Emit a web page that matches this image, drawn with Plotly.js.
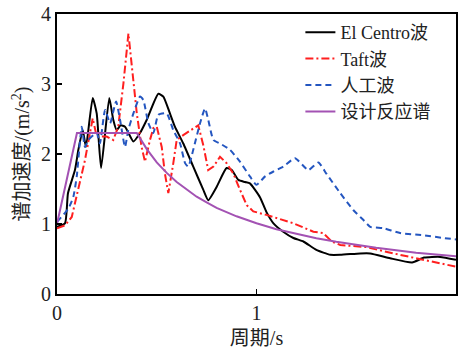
<!DOCTYPE html>
<html>
<head>
<meta charset="utf-8">
<script src="https://cdn.plot.ly/plotly-3.0.1.min.js"></script>
<style>
html,body{margin:0;padding:0;background:#fff}
#chart{width:459px;height:354px}
#chart svg text{font-family:"Liberation Serif","Times New Roman","Noto Sans CJK SC",serif !important}
</style>
</head>
<body>
<div id="chart"></div>
<script>
// El Centro wave
const elT = [0, 0.04, 0.055, 0.09, 0.107, 0.129, 0.145, 0.179, 0.199, 0.221, 0.262, 0.282, 0.299, 0.319, 0.341, 0.383, 0.416, 0.45, 0.508, 0.533, 0.566, 0.591, 0.633, 0.683, 0.733, 0.758, 0.80, 0.85, 0.876, 0.909, 0.942, 0.967, 1.018, 1.05, 1.085, 1.134, 1.185, 1.235, 1.30, 1.37, 1.42, 1.52, 1.57, 1.67, 1.78, 1.84, 1.92, 2.0];
const elS = [0.96, 1.01, 1.44, 1.77, 2.06, 2.34, 2.10, 2.80, 2.58, 1.80, 2.80, 2.49, 2.34, 2.41, 2.39, 2.18, 2.30, 2.49, 2.86, 2.82, 2.58, 2.39, 2.15, 1.82, 1.49, 1.34, 1.53, 1.80, 1.77, 1.63, 1.60, 1.58, 1.38, 1.17, 1.01, 0.89, 0.80, 0.75, 0.63, 0.56, 0.56, 0.58, 0.58, 0.51, 0.45, 0.52, 0.53, 0.49];
// Taft wave
const taftT = [0, 0.04, 0.074, 0.115, 0.14, 0.179, 0.199, 0.249, 0.282, 0.307, 0.333, 0.358, 0.374, 0.40, 0.424, 0.441, 0.466, 0.483, 0.50, 0.525, 0.541, 0.558, 0.583, 0.60, 0.633, 0.683, 0.708, 0.733, 0.758, 0.784, 0.817, 0.85, 0.884, 0.917, 0.951, 0.984, 1.05, 1.185, 1.285, 1.335, 1.377, 1.42, 1.55, 1.686, 1.80, 1.887, 2.0];
const taftS = [0.94, 0.98, 1.10, 1.63, 1.91, 2.51, 2.25, 2.25, 2.20, 2.39, 3.01, 3.72, 3.25, 2.58, 2.10, 1.89, 2.20, 2.37, 2.39, 2.10, 1.72, 1.44, 1.87, 2.20, 2.27, 2.37, 2.41, 2.13, 1.77, 1.82, 1.96, 1.87, 1.72, 1.49, 1.27, 1.18, 1.13, 1.01, 0.89, 0.87, 0.75, 0.70, 0.67, 0.58, 0.51, 0.46, 0.39];
// Artificial wave
const artT = [0, 0.057, 0.082, 0.099, 0.124, 0.14, 0.157, 0.199, 0.215, 0.241, 0.266, 0.296, 0.316, 0.341, 0.357, 0.383, 0.416, 0.433, 0.458, 0.483, 0.508, 0.55, 0.583, 0.617, 0.642, 0.658, 0.683, 0.717, 0.742, 0.758, 0.784, 0.817, 0.867, 0.917, 0.967, 1.0, 1.043, 1.085, 1.134, 1.193, 1.26, 1.31, 1.35, 1.42, 1.485, 1.535, 1.57, 1.636, 1.72, 1.836, 1.936, 2.0];
const artS = [1.03, 1.22, 1.39, 1.68, 2.39, 2.10, 2.20, 2.30, 2.15, 2.63, 2.44, 2.75, 2.49, 2.10, 2.34, 2.58, 2.82, 2.77, 2.44, 2.30, 2.56, 2.58, 2.34, 2.15, 1.87, 1.82, 2.06, 2.44, 2.65, 2.49, 2.20, 2.15, 2.06, 1.89, 1.68, 1.56, 1.68, 1.75, 1.82, 1.94, 1.77, 1.88, 1.72, 1.44, 1.20, 1.06, 0.96, 0.94, 0.87, 0.84, 0.80, 0.78];
// Design response spectrum
const desT = [0, 0.1, 0.4, 0.45, 0.5, 0.55, 0.6, 0.65, 0.7, 0.75, 0.8, 0.9, 1.0, 1.1, 1.2, 1.3, 1.4, 1.5, 1.6, 1.7, 1.8, 1.9, 2.0];
const desS = [1.0, 2.3, 2.3, 2.07, 1.88, 1.73, 1.60, 1.49, 1.39, 1.31, 1.23, 1.11, 1.01, 0.925, 0.856, 0.796, 0.745, 0.70, 0.66, 0.625, 0.59, 0.566, 0.54];

const names = ['El Centro波', 'Taft波', '人工波', '设计反应谱'];
const xTicks = [0, 1, 2];
const yTicks = [0, 1, 2, 3, 4];

const font = 'Liberation Serif';
const cssFont = '"Liberation Serif", "Times New Roman", "Noto Sans CJK SC", serif';

const traces = [
  {x: elT, y: elS, name: names[0], mode: 'lines', line: {color: '#000000', width: 2, shape: 'spline', smoothing: 0.5}},
  {x: taftT, y: taftS, name: names[1], mode: 'lines', line: {color: '#FF1F1F', width: 2, dash: '8px,3px,2px,3px'}},
  {x: artT, y: artS, name: names[2], mode: 'lines', line: {color: '#2456C0', width: 2, dash: '6px,4px', shape: 'spline', smoothing: 0.5}},
  {x: desT, y: desS, name: names[3], mode: 'lines', line: {color: '#A352B3', width: 2}}
];

const layout = {
  width: 459, height: 354,
  margin: {l: 57, r: 3, t: 14, b: 60},
  paper_bgcolor: '#fff', plot_bgcolor: '#fff',
  font: {family: font, size: 20, color: '#222'},
  showlegend: true,
  legend: {x: 0.61, xanchor: 'left', y: 1.0, yanchor: 'top', bgcolor: 'rgba(0,0,0,0)', font: {family: font, size: 18, color: '#222'}, tracegroupgap: 0, itemwidth: 30},
  xaxis: {
    range: [0, 2], tickvals: xTicks, ticktext: xTicks.map(String),
    ticks: 'inside', ticklen: 5, tickwidth: 1.5, tickcolor: '#000',
    showline: true, linecolor: '#000', linewidth: 2, mirror: true,
    showgrid: false, zeroline: false,
    tickfont: {family: font, size: 20, color: '#222'},
    title: {text: '周期/s', font: {family: font, size: 20, color: '#222'}, standoff: 8}
  },
  yaxis: {
    range: [0, 4], tickvals: yTicks, ticktext: yTicks.map(String),
    ticks: 'inside', ticklen: 5, tickwidth: 1.5, tickcolor: '#000',
    showline: true, linecolor: '#000', linewidth: 2, mirror: true,
    showgrid: false, zeroline: false,
    tickfont: {family: font, size: 20, color: '#222'},
    title: {text: '谱加速度/(m/s<sup>2</sup>)', font: {family: font, size: 20, color: '#222'}, standoff: 6}
  }
};

Plotly.newPlot('chart', traces, layout, {staticPlot: true, displayModeBar: false}).then(function () {
  document.querySelectorAll('#chart svg text').forEach(function (t) {
    t.style.setProperty('font-family', cssFont, 'important');
  });
});
</script>
</body>
</html>
